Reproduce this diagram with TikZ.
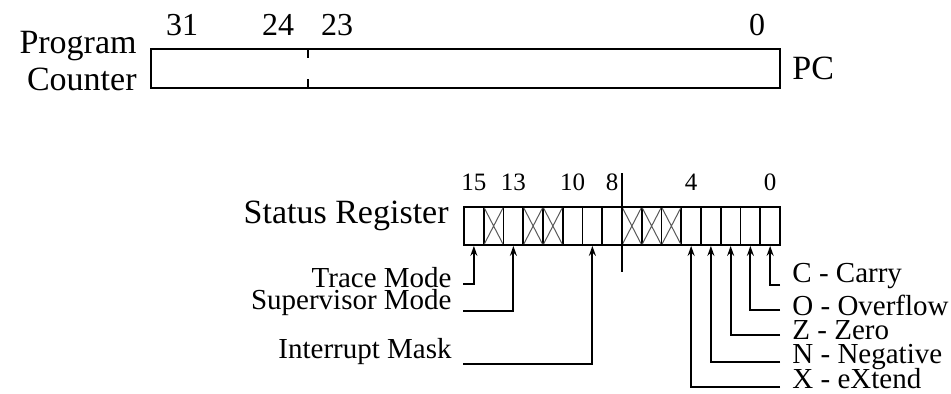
\documentclass[tikz,border=0pt]{standalone}
\usepackage{fontspec}
\setmainfont{Liberation Serif}
\usetikzlibrary{arrows.meta, positioning}

\begin{document}
\begin{tikzpicture}[x=0.5pt, y=-0.5pt]

    \tikzstyle{reg} = [rectangle, draw, line width=0.9pt, inner sep=0pt, minimum width=314.5pt, minimum height=19.5pt]
    \tikzstyle{cell} = [rectangle, draw, line width=0.9pt, inner sep=0pt, minimum width=9.875pt, minimum height=19pt]
    \tikzstyle{cross} = [gray!70!black, line width=0.5pt]
    \tikzstyle{arrow} = [line width=0.9pt, -{Stealth[length=5pt, width=3.5pt]}]
    \tikzstyle{big} = [inner sep=0pt, font=\fontsize{17}{18}\selectfont]
    \tikzstyle{pcnum} = [inner sep=0pt, font=\fontsize{16}{17}\selectfont]
    \tikzstyle{srnum} = [inner sep=0pt, font=\fontsize{12.5}{13}\selectfont]
    \tikzstyle{bitlabel} = [inner sep=0pt, font=\fontsize{14.5}{15}\selectfont]

    \useasboundingbox (0,0) rectangle (951,393);

    % program counter
    \node (pc) [reg] at (465.5,68.5) {};
    \draw[line width=0.9pt] (308,49) -- (308,58) (308,79) -- (308,88);
    \node (pcname) [big, anchor=base west] at (792,79) {PC};
    \node (prog) [big, anchor=base east] at (137,53) {Program};
    \node (cnt) [big, anchor=base east] at (137,90) {Counter};
    \node (p31) [pcnum, anchor=base] at (182,35) {31};
    \node (p24) [pcnum, anchor=base] at (278,35) {24};
    \node (p23) [pcnum, anchor=base] at (337,35) {23};
    \node (p0) [pcnum, anchor=base] at (757,35) {0};

    % status register
    \foreach \b in {0,...,15}
        \node (b\b) [cell] at ({780-(\b+0.5)*19.75},226) {};
    \foreach \b in {14,12,11,7,6,5}
        \draw[cross] ([shift={(1.5,2)}]b\b.north west) -- ([shift={(-1.5,-2)}]b\b.south east)
                     ([shift={(-1.5,2)}]b\b.north east) -- ([shift={(1.5,-2)}]b\b.south west);
    \draw[line width=0.9pt] (622,173) -- (622,272);
    \node (srname) [big, anchor=base east] at (449,223) {Status Register};
    \foreach \b/\t in {15/15, 13/13, 10/10, 8/8, 4/4, 0/0}
        \node (n\b) [srnum, anchor=base] at (b\b |- 0,190) {\t};

    % left side fields
    \node (trace) [bitlabel, anchor=base east] at (452,287) {Trace Mode};
    \node (super) [bitlabel, anchor=base east] at (452,309) {Supervisor Mode};
    \node (imask) [bitlabel, anchor=base east] at (452,358) {Interrupt Mask};
    \coordinate (tl) at (463,284);
    \coordinate (sl) at (463,311);
    \coordinate (il) at (463,364);
    \draw[arrow] (tl) -| (b15.south);
    \draw[arrow] (sl) -| (b13.south);
    \draw[arrow] (il) -| (b9.south);

    % right side flags
    \node (carry) [bitlabel, anchor=base west] at (792,282) {C - Carry};
    \node (ovfl) [bitlabel, anchor=base west] at (792,315) {O - Overflow};
    \node (zero) [bitlabel, anchor=base west] at (792,339) {Z - Zero};
    \node (neg) [bitlabel, anchor=base west] at (792,363) {N - Negative};
    \node (ext) [bitlabel, anchor=base west] at (792,388) {X - eXtend};
    \coordinate (cl) at (780,285);
    \coordinate (ol) at (780,310);
    \coordinate (zl) at (780,335);
    \coordinate (nl) at (780,362);
    \coordinate (xl) at (780,387);
    \draw[arrow] (cl) -| (b0.south);
    \draw[arrow] (ol) -| (b1.south);
    \draw[arrow] (zl) -| (b2.south);
    \draw[arrow] (nl) -| (b3.south);
    \draw[arrow] (xl) -| (b4.south);

\end{tikzpicture}
\end{document}
